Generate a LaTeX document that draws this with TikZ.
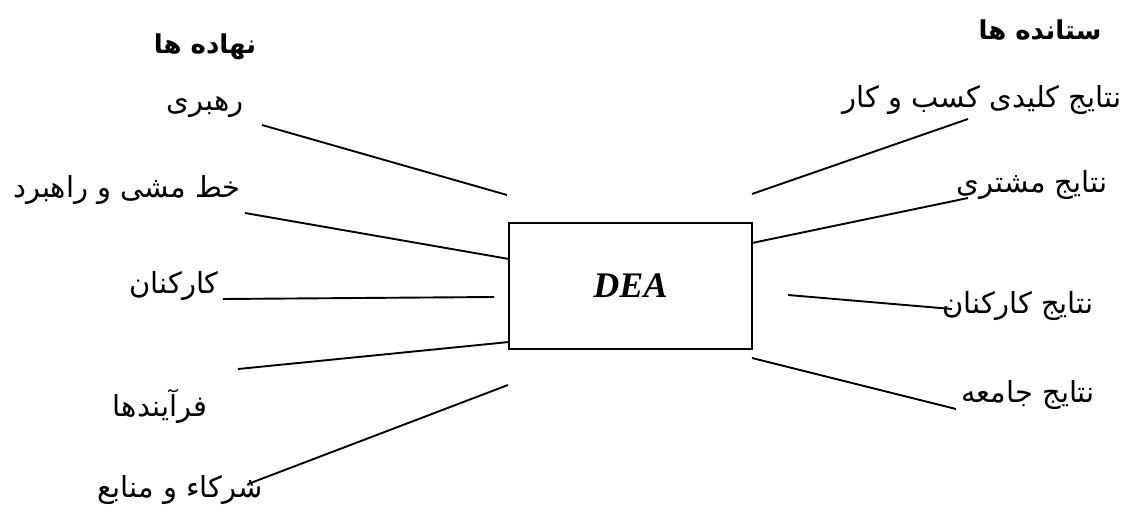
\documentclass[tikz,border=0pt]{standalone}
\usepackage{fontspec}
\TeXXeTstate=1
\newfontfamily\arabicfont[Script=Arabic]{DejaVu Sans}
\newfontfamily\timesfont{Liberation Serif}
\newcommand{\fa}[1]{{\arabicfont\beginR #1\endR}}
\tikzset{
  lbl/.style={inner sep=0pt, font=\fontsize{29}{33}\selectfont},
  head/.style={inner sep=0pt, font=\fontsize{26}{30}\selectfont\bfseries},
  conn/.style={line width=1.9pt},
  dea/.style={draw, line width=1.8pt, minimum width=243pt, minimum height=126pt, inner sep=0pt, font=\timesfont\bfseries\itshape\fontsize{36}{40}\selectfont}
}
\begin{document}
\begin{tikzpicture}[x=1pt,y=-1pt]
\useasboundingbox (0,0) rectangle (1129,505);
\node[dea] (box) at (630.5,286) {DEA};
% headings
\node[head] (hin) at (205,47) {\fa{نهاده ها}};
\node[head] (hout) at (1040,30) {\fa{ستانده ها}};
% input labels
\node[lbl] (t1) at (205,107) {\fa{رهبری}};
\node[lbl] (t2) at (127,190) {\fa{خط مشی و راهبرد}};
\node[lbl] (t3) at (174,286) {\fa{کارکنان}};
\node[lbl] (t4) at (160,406) {\fa{فرآیندها}};
\node[lbl] (t5) at (180,490) {\fa{شرکاء و منابع}};
% output labels
\node[lbl] (o1) at (982,100) {\fa{نتایج کلیدی کسب و کار}};
\node[lbl] (o2) at (1032,185) {\fa{نتایج مشتری}};
\node[lbl] (o3) at (1018,306) {\fa{نتایج کارکنان}};
\node[lbl] (o4) at (1028,395) {\fa{نتایج جامعه}};
% line end points
\coordinate (a1) at (262,125); \coordinate (b1) at (507,195);
\coordinate (a2) at (245,213); \coordinate (b2) at (509,259);
\coordinate (a3) at (223,299); \coordinate (b3) at (494,297);
\coordinate (a4) at (238,369); \coordinate (b4) at (509,342);
\coordinate (a5) at (248,484); \coordinate (b5) at (508,385);
\coordinate (c1) at (752,194); \coordinate (d1) at (968,119);
\coordinate (c2) at (752,243); \coordinate (d2) at (968,198);
\coordinate (c3) at (788,295); \coordinate (d3) at (952,309);
\coordinate (c4) at (752,358); \coordinate (d4) at (956,409);
\draw[conn] (a1) -- (b1);
\draw[conn] (a2) -- (b2);
\draw[conn] (a3) -- (b3);
\draw[conn] (a4) -- (b4);
\draw[conn] (a5) -- (b5);
\draw[conn] (c1) -- (d1);
\draw[conn] (c2) -- (d2);
\draw[conn] (c3) -- (d3);
\draw[conn] (c4) -- (d4);
\end{tikzpicture}
\end{document}
